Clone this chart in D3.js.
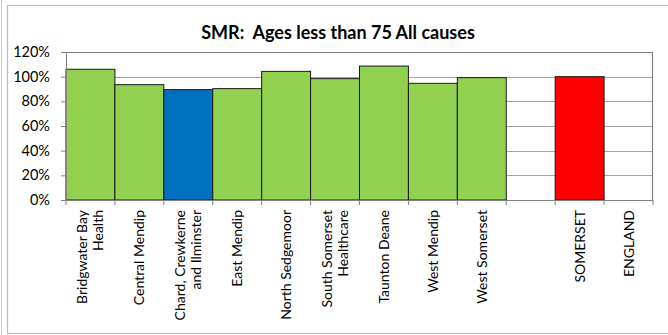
<!DOCTYPE html>
<html><head><meta charset="utf-8">
<script src="https://cdn.jsdelivr.net/npm/d3@7"></script>
<style>body{margin:0;background:#fff}svg{display:block}</style>
</head><body>
<svg id="c" width="668" height="335"></svg>
<script>
const categories = [
  ["Bridgwater Bay","Health"],
  ["Central Mendip"],
  ["Chard, Crewkerne","and Ilminster"],
  ["East Mendip"],
  ["North Sedgemoor"],
  ["South Somerset","Healthcare"],
  ["Taunton Deane"],
  ["West Mendip"],
  ["West Somerset"],
  [""],
  ["SOMERSET"],
  ["ENGLAND"]
];
const values = [1.06, 0.935, 0.895, 0.903, 1.043, 0.984, 1.086, 0.946, 0.992, null, 1.0, null];
const colors = ["#92D050","#92D050","#0070C0","#92D050","#92D050","#92D050","#92D050","#92D050","#92D050",null,"#FF0000",null];
const yTicks = [0,0.2,0.4,0.6,0.8,1.0,1.2];
const title = "SMR:  Ages less than 75 All causes";

const svg = d3.select("#c");
const font = "Lato, 'Open Sans', sans-serif";
// outer border
svg.append("line").attr("x1",1.5).attr("x2",1.5).attr("y1",0).attr("y2",335).attr("stroke","#c8c8c8");
svg.append("rect").attr("x",7.5).attr("y",5.5).attr("width",680).attr("height",328)
  .attr("fill","none").attr("stroke","#bdbdbd").attr("stroke-width",1.2);

const L=66, R=653, T=52, B=200;
const x = d3.scaleBand().domain(d3.range(categories.length)).range([L,R]).padding(0);
const y = d3.scaleLinear().domain([0,1.2]).range([B,T]);

// gridlines
svg.append("g").selectAll("line").data(yTicks.slice(1)).join("line")
  .attr("x1",L).attr("x2",R).attr("y1",d=>Math.round(y(d))+0.5).attr("y2",d=>Math.round(y(d))+0.5)
  .attr("stroke","#a6a6a6").attr("stroke-width",1);

// bars
svg.append("g").selectAll("rect").data(values.map((v,i)=>({v,i})).filter(d=>d.v!=null)).join("rect")
  .attr("x",d=>x(d.i)).attr("width",x.bandwidth())
  .attr("y",d=>y(d.v)).attr("height",d=>B-y(d.v))
  .attr("fill",d=>colors[d.i]).attr("stroke","#1a1a1a").attr("stroke-width",1);

// plot border top/right
svg.append("path").attr("d",`M${L},${T+0.5}H${R-0.5}V${B}`).attr("fill","none").attr("stroke","#808080").attr("stroke-width",1.2);

// y axis
const ya = svg.append("g").attr("transform",`translate(${L},0)`)
  .call(d3.axisLeft(y).tickValues(yTicks).tickFormat(d3.format(".0%")).tickSize(5).tickPadding(11));
ya.select(".domain").attr("stroke","#808080");
ya.selectAll(".tick line").attr("stroke","#808080");
ya.selectAll("text").attr("font-family",font).attr("font-size",14.5).attr("fill","#000");

// x axis with boundary ticks
const xa = svg.append("g").attr("transform",`translate(0,${B})`);
xa.append("line").attr("x1",L).attr("x2",R).attr("y1",0.5).attr("y2",0.5).attr("stroke","#808080");
xa.selectAll(".bt").data(d3.range(categories.length+1)).join("line")
  .attr("x1",i=>i<categories.length?x(i):R).attr("x2",i=>i<categories.length?x(i):R)
  .attr("y1",0).attr("y2",5).attr("stroke","#808080");

// category labels
const lab = svg.append("g").selectAll("text").data(categories.map((c,i)=>({c,i}))).join("text")
  .attr("transform",d=>`translate(${x(d.i)+x.bandwidth()/2},${B+10}) rotate(-90)`)
  .attr("text-anchor","end").attr("font-family",font).attr("font-size",14).attr("fill","#000");
lab.each(function(d){
  const n=d.c.length, lh=16;
  d3.select(this).selectAll("tspan").data(d.c).join("tspan")
    .attr("x",0).attr("y",(s,k)=>(k-(n-1)/2)*lh+5).text(s=>s);
});

// title
svg.append("text").attr("x",338).attr("y",39).attr("text-anchor","middle")
  .style("white-space","pre").attr("xml:space","preserve")
  .attr("font-family",font).attr("font-weight","bold").attr("font-size",18).text(title);
</script>
</body></html>
